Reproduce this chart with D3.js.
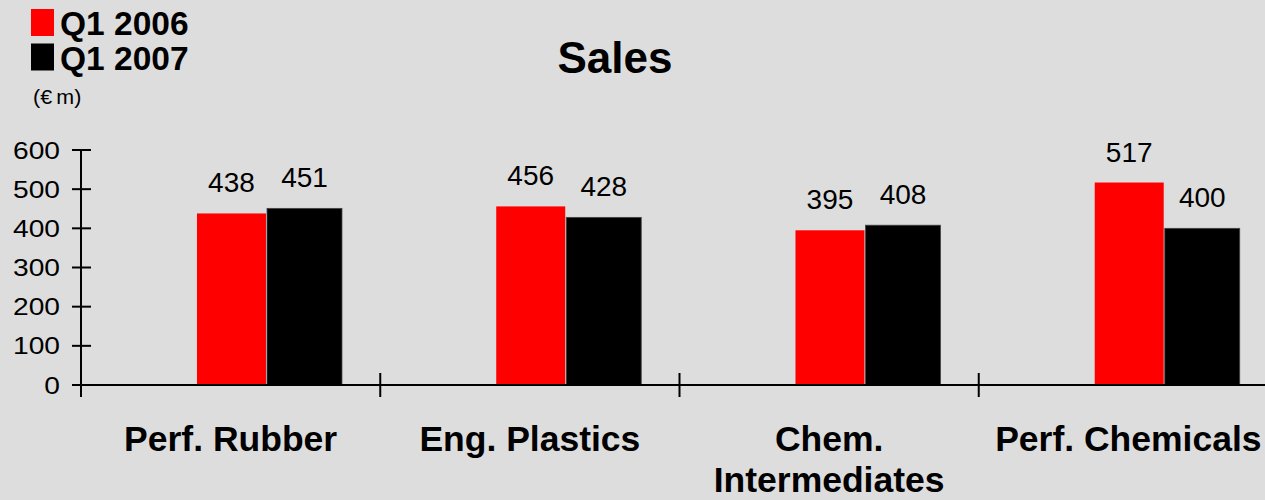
<!DOCTYPE html>
<html>
<head>
<meta charset="utf-8">
<script src="https://cdn.jsdelivr.net/npm/d3@7"></script>
<style>
  html, body { margin: 0; padding: 0; background: #dddddd; }
  svg { display: block; font-family: "Liberation Sans", Arial, sans-serif; }
</style>
</head>
<body>
<svg id="chart" width="1265" height="500"></svg>
<script>
const categories = ["Perf. Rubber", "Eng. Plastics", "Chem.\nIntermediates", "Perf. Chemicals"];
const seriesNames = ["Q1 2006", "Q1 2007"];
const q1_2006 = [438, 456, 395, 517];
const q1_2007 = [451, 428, 408, 400];
const yTicks = [0, 100, 200, 300, 400, 500, 600];
const colors = ["#ff0000", "#000000"];

const svg = d3.select("#chart");
svg.append("rect").attr("width", 1265).attr("height", 500).attr("fill", "#dddddd");

const x = d3.scaleBand().domain(categories).range([81, 1278]).padding(0);
const y = d3.scaleLinear().domain([0, 600]).range([385, 150]);
const bw = x.bandwidth();

// Title
svg.append("text").attr("x", 615).attr("y", 73).attr("text-anchor", "middle")
  .attr("font-size", 44).attr("font-weight", "bold").attr("fill", "#000").text("Sales");

// Legend
const leg = svg.append("g");
seriesNames.forEach((s, i) => {
  leg.append("rect").attr("x", 31).attr("y", 9 + i * 34.5).attr("width", 23).attr("height", 27)
    .attr("fill", colors[i]);
  leg.append("text").attr("x", 60).attr("y", 35 + i * 34.5).attr("font-size", 33.5)
    .attr("font-weight", "bold").attr("fill", "#000").text(s);
});
svg.append("text").attr("transform", "translate(33,104) scale(1.1,1)")
  .attr("font-size", 19.5).attr("fill", "#000").text("(€\u2009m)");

// Bars
const series = [q1_2006, q1_2007];
const offs = [{x0: 0.3876, w: 0.2305}, {x0: 0.6216, w: 0.2505}];
series.forEach((vals, si) => {
  const g = svg.append("g");
  categories.forEach((c, ci) => {
    const bx = x(c) + offs[si].x0 * bw;
    const w = offs[si].w * bw;
    g.append("rect").attr("x", bx).attr("y", y(vals[ci]))
      .attr("width", w).attr("height", y(0) - y(vals[ci]))
      .attr("fill", colors[si])
      .attr("stroke", si === 1 ? "#444" : "none").attr("stroke-width", si === 1 ? 0.8 : 0);
    g.append("text").attr("x", bx + w / 2).attr("y", y(vals[ci]) - 21)
      .attr("text-anchor", "middle").attr("font-size", 28).attr("fill", "#000")
      .text(vals[ci]);
  });
});

// Y axis
const ax = svg.append("g").attr("stroke", "#000").attr("stroke-width", 2);
ax.append("line").attr("x1", 81).attr("x2", 81).attr("y1", y(600)).attr("y2", 397);
yTicks.forEach(t => {
  ax.append("line").attr("x1", 72).attr("x2", 91).attr("y1", y(t)).attr("y2", y(t));
  svg.append("text").attr("transform", `translate(60,${y(t) + 8.5}) scale(1.15,1)`)
    .attr("text-anchor", "end").attr("font-size", 24.5).attr("fill", "#000").text(t);
});

// X axis
ax.append("line").attr("x1", 81).attr("x2", 1265).attr("y1", y(0)).attr("y2", y(0));
categories.forEach(c => {
  ax.append("line").attr("x1", x(c)).attr("x2", x(c)).attr("y1", 373).attr("y2", 397);
});

// Category labels
categories.forEach(c => {
  const lines = c.split("\n");
  const t = svg.append("text").attr("text-anchor", "middle").attr("font-size", 35.5)
    .attr("font-weight", "bold").attr("fill", "#000");
  lines.forEach((ln, i) => {
    t.append("tspan").attr("x", x(c) + bw / 2).attr("y", 451 + i * 41).text(ln);
  });
});
</script>
</body>
</html>
